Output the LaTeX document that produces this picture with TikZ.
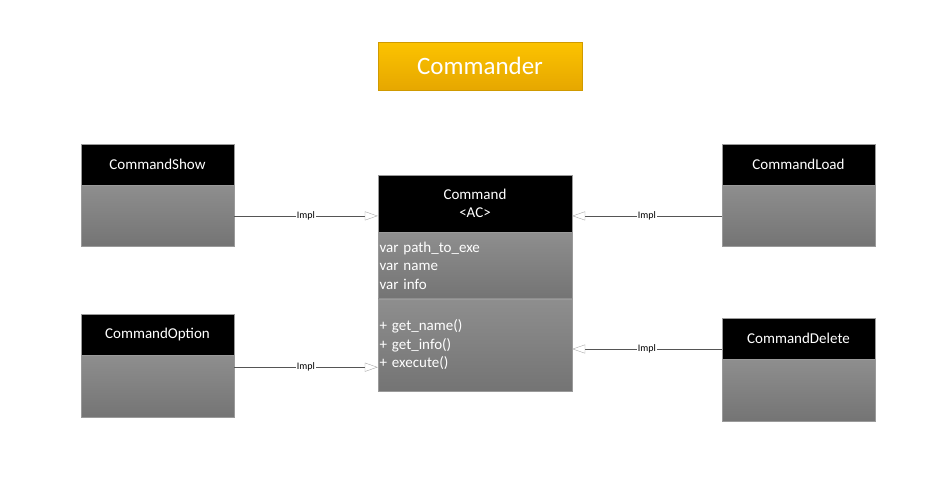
\documentclass[tikz,border=0pt]{standalone}
\usepackage{fontspec}
\setmainfont{Carlito}
\usetikzlibrary{arrows.meta, positioning}

\definecolor{titletop}{HTML}{FCC300}
\definecolor{titlebottom}{HTML}{E6A700}
\definecolor{titleborder}{HTML}{D09A00}
\definecolor{bodytop}{HTML}{8E8E8E}
\definecolor{bodybottom}{HTML}{747474}
\definecolor{boxborder}{HTML}{9A9A9A}
\definecolor{linegray}{HTML}{555555}
\definecolor{tipgray}{HTML}{A8A8A8}

\begin{document}
\begin{tikzpicture}[
    x=1pt, y=-1pt,
    title/.style={
        rectangle,
        draw=titleborder,
        top color=titletop,
        bottom color=titlebottom,
        minimum width=204pt,
        minimum height=48pt,
        text=white,
        font=\fontsize{25}{30}\selectfont
    },
    head/.style={
        rectangle,
        draw=boxborder,
        fill=black,
        text=white,
        align=center,
        inner sep=0pt,
        minimum width=153pt,
        minimum height=41pt,
        font=\fontsize{15}{17.5}\selectfont
    },
    body/.style={
        rectangle,
        draw=boxborder,
        top color=bodytop,
        bottom color=bodybottom,
        minimum width=153pt
    },
    section/.style={
        rectangle,
        draw=boxborder,
        top color=bodytop,
        bottom color=bodybottom,
        inner xsep=1.5pt,
        inner ysep=0pt,
        text width=191pt,
        align=left,
        text=white,
        font=\fontsize{15}{18.5}\selectfont
    },
    impl/.style={draw=linegray, -{Triangle[open, length=13pt, width=9pt, color=tipgray]}},
    tag/.style={fill=white, inner sep=0.6pt, text=black, font=\fontsize{10}{11}\selectfont}
]
    \useasboundingbox (0,0) rectangle (948,483);

    \node [title] (commander) at (480,66) {Commander};

    % abstract class
    \node [head, minimum width=194pt, minimum height=57pt] (cmdhead) at (475,203.5) {Command\\<AC>};
    \node [section, minimum height=66pt, below=0pt of cmdhead] (cmdattr) {var path\_to\_exe\\var name\\var info};
    \node [section, minimum height=92pt, below=0pt of cmdattr] (cmdmeth) {+ get\_name()\\+ get\_info()\\+ execute()};

    % implementations
    \node [head] (showhead) at (157.5,164.5) {CommandShow};
    \node [body, minimum height=61pt, below=0pt of showhead] (showbody) {};
    \node [head] (opthead) at (157.5,334.5) {CommandOption};
    \node [body, minimum height=62pt, below=0pt of opthead] (optbody) {};
    \node [head] (loadhead) at (798.5,164.5) {CommandLoad};
    \node [body, minimum height=61pt, below=0pt of loadhead] (loadbody) {};
    \node [head] (delhead) at (798.5,338.5) {CommandDelete};
    \node [body, minimum height=62pt, below=0pt of delhead] (delbody) {};

    \draw [impl] (showbody.east) -- node [tag] {Impl} (showbody.east -| cmdhead.west);
    \draw [impl] ([yshift=-12pt]optbody.north east) coordinate (optout) -- node [tag] {Impl} (optout -| cmdmeth.west);
    \draw [impl] (loadbody.west) -- node [tag] {Impl} (loadbody.west -| cmdhead.east);
    \draw [impl] ([yshift=-10.5pt]delhead.west) coordinate (delout) -- node [tag] {Impl} (delout -| cmdmeth.east);
\end{tikzpicture}
\end{document}
